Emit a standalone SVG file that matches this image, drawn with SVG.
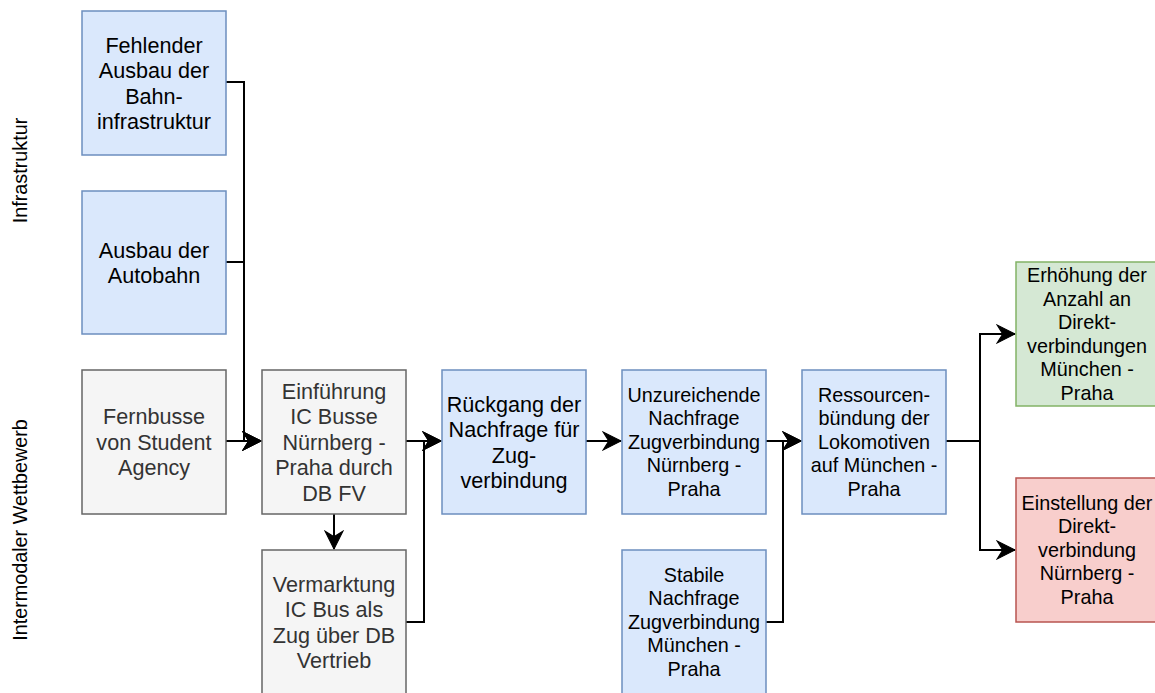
<svg xmlns="http://www.w3.org/2000/svg" width="1155" height="693" viewBox="0 0 1155 693">
  <style>
    text { font-family: "Liberation Sans", Arial, Helvetica, sans-serif; text-anchor: middle; fill: #000000; }
    .big { font-size: 21.6px; }
    .small { font-size: 19.8px; }
    .blue { fill: #dae8fc; stroke: #6c8ebf; stroke-width: 1.5; }
    .gray { fill: #f5f5f5; stroke: #666666; stroke-width: 1.5; }
    .green { fill: #d5e8d4; stroke: #82b366; stroke-width: 1.5; }
    .red { fill: #f8cecc; stroke: #b85450; stroke-width: 1.5; }
    .gray-text { fill: #333333; }
    .edge-arrow { fill: none; stroke: #000000; stroke-width: 2; marker-end: url(#arrow); }
  </style>
  <defs>
    <marker id="arrow" markerUnits="userSpaceOnUse" markerWidth="20" markerHeight="20" viewBox="-17 -9 18 18" refX="0" refY="0" orient="auto">
      <path d="M0,0 L-16,-8 L-11,0 L-16,8 Z" fill="#000000" stroke="#000000" stroke-width="1"/>
    </marker>
  </defs>

  <rect width="1155" height="693" fill="#ffffff"/>

  <!-- lane labels -->
  <g id="lane-infrastruktur">
    <text class="small" transform="translate(26.5,170.5) rotate(-90)">Infrastruktur</text>
  </g>
  <g id="lane-wettbewerb">
    <text class="small" transform="translate(26.5,530) rotate(-90)">Intermodaler Wettbewerb</text>
  </g>

  <!-- connectors -->
  <g id="connectors">
    <path class="edge-arrow" d="M226,82 H244 V441 H261"/>
    <path class="edge-arrow" d="M226,262 H244 V441 H261"/>
    <path class="edge-arrow" d="M226,441 H261"/>
    <path class="edge-arrow" d="M334,514 V549"/>
    <path class="edge-arrow" d="M406,441 H441"/>
    <path class="edge-arrow" d="M406,622 H424 V441 H441"/>
    <path class="edge-arrow" d="M586,441 H621"/>
    <path class="edge-arrow" d="M766,441 H801"/>
    <path class="edge-arrow" d="M766,622 H783 V441 H801"/>
    <path class="edge-arrow" d="M946,441 H980 V334 H1015"/>
    <path class="edge-arrow" d="M946,441 H980 V550 H1015"/>
  </g>

  <!-- nodes -->
  <g id="node-bahninfrastruktur">
    <rect class="blue" x="82" y="11" width="144" height="144"/>
    <text class="big" x="154" y="52.5">Fehlender</text>
    <text class="big" x="154" y="78">Ausbau der</text>
    <text class="big" x="154" y="103.5">Bahn-</text>
    <text class="big" x="154" y="129">infrastruktur</text>
  </g>

  <g id="node-autobahn">
    <rect class="blue" x="82" y="191" width="144" height="143"/>
    <text class="big" x="154" y="257.5">Ausbau der</text>
    <text class="big" x="154" y="283">Autobahn</text>
  </g>

  <g id="node-fernbusse">
    <rect class="gray" x="82" y="370" width="144" height="144"/>
    <text class="big gray-text" x="154" y="424.3">Fernbusse</text>
    <text class="big gray-text" x="154" y="449.8">von Student</text>
    <text class="big gray-text" x="154" y="475.3">Agency</text>
  </g>

  <g id="node-ic-busse">
    <rect class="gray" x="262" y="370" width="144" height="144"/>
    <text class="big gray-text" x="334" y="398.8">Einführung</text>
    <text class="big gray-text" x="334" y="424.3">IC Busse</text>
    <text class="big gray-text" x="334" y="449.8">Nürnberg -</text>
    <text class="big gray-text" x="334" y="475.3">Praha durch</text>
    <text class="big gray-text" x="334" y="500.8">DB FV</text>
  </g>

  <g id="node-vermarktung">
    <rect class="gray" x="262" y="550" width="144" height="144"/>
    <text class="big gray-text" x="334" y="591.5">Vermarktung</text>
    <text class="big gray-text" x="334" y="617">IC Bus als</text>
    <text class="big gray-text" x="334" y="642.5">Zug über DB</text>
    <text class="big gray-text" x="334" y="668">Vertrieb</text>
  </g>

  <g id="node-rueckgang">
    <rect class="blue" x="442" y="370" width="144" height="144"/>
    <text class="big" x="514" y="411.5">Rückgang der</text>
    <text class="big" x="514" y="437">Nachfrage für</text>
    <text class="big" x="514" y="462.5">Zug-</text>
    <text class="big" x="514" y="488">verbindung</text>
  </g>

  <g id="node-nachfrage-nuernberg">
    <rect class="blue" x="622" y="370" width="144" height="144"/>
    <text class="small" x="694" y="401.9">Unzureichende</text>
    <text class="small" x="694" y="425.4">Nachfrage</text>
    <text class="small" x="694" y="448.9">Zugverbindung</text>
    <text class="small" x="694" y="472.4">Nürnberg -</text>
    <text class="small" x="694" y="495.9">Praha</text>
  </g>

  <g id="node-nachfrage-muenchen">
    <rect class="blue" x="622" y="550" width="144" height="144"/>
    <text class="small" x="694" y="581.9">Stabile</text>
    <text class="small" x="694" y="605.4">Nachfrage</text>
    <text class="small" x="694" y="628.9">Zugverbindung</text>
    <text class="small" x="694" y="652.4">München -</text>
    <text class="small" x="694" y="675.9">Praha</text>
  </g>

  <g id="node-ressourcen">
    <rect class="blue" x="802" y="370" width="144" height="144"/>
    <text class="small" x="874" y="401.9">Ressourcen-</text>
    <text class="small" x="874" y="425.4">bündung der</text>
    <text class="small" x="874" y="448.9">Lokomotiven</text>
    <text class="small" x="874" y="472.4">auf München -</text>
    <text class="small" x="874" y="495.9">Praha</text>
  </g>

  <g id="node-erhoehung">
    <rect class="green" x="1016" y="262" width="144" height="144"/>
    <text class="small" x="1087" y="282.2">Erhöhung der</text>
    <text class="small" x="1087" y="305.7">Anzahl an</text>
    <text class="small" x="1087" y="329.2">Direkt-</text>
    <text class="small" x="1087" y="352.7">verbindungen</text>
    <text class="small" x="1087" y="376.2">München -</text>
    <text class="small" x="1087" y="399.7">Praha</text>
  </g>

  <g id="node-einstellung">
    <rect class="red" x="1016" y="478" width="144" height="144"/>
    <text class="small" x="1087" y="509.9">Einstellung der</text>
    <text class="small" x="1087" y="533.4">Direkt-</text>
    <text class="small" x="1087" y="556.9">verbindung</text>
    <text class="small" x="1087" y="580.4">Nürnberg -</text>
    <text class="small" x="1087" y="603.9">Praha</text>
  </g>
</svg>
